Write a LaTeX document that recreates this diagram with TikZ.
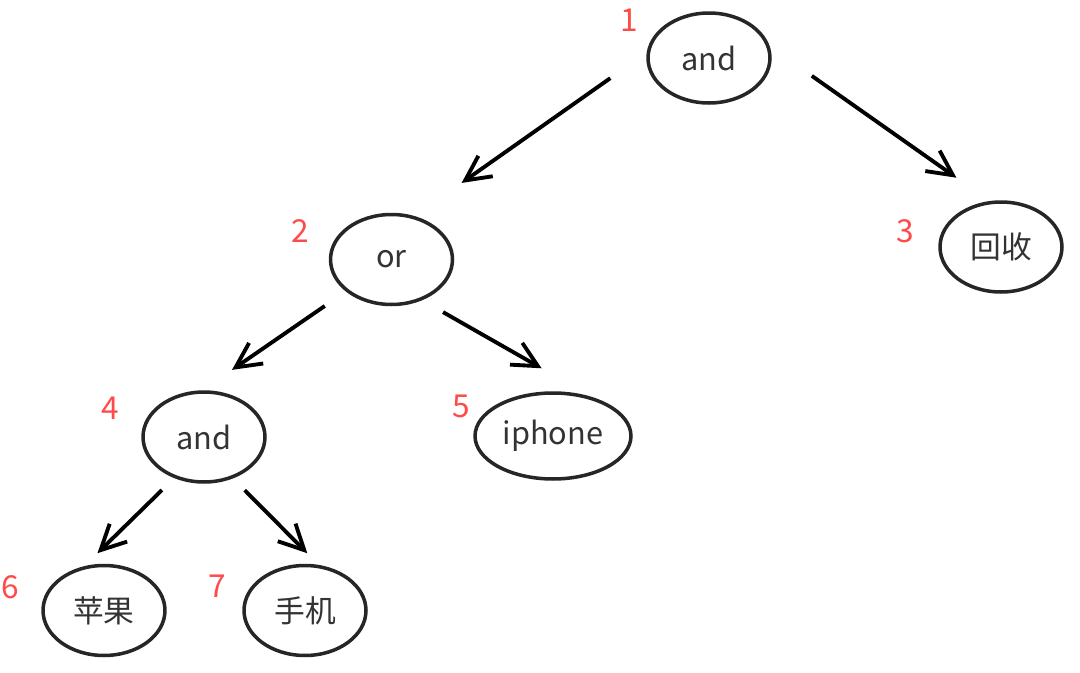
\documentclass[tikz,border=0pt]{standalone}
\usepackage{fontspec}
\setmainfont{Noto Sans CJK SC}
\usetikzlibrary{shapes.geometric,arrows.meta}
\definecolor{nodeline}{HTML}{262626}
\definecolor{nodetext}{HTML}{333333}
\definecolor{numred}{HTML}{FF4A4A}
\tikzset{
  treenode/.style={ellipse, draw=nodeline, line width=2pt, text=nodetext,
    minimum width=2.44cm, minimum height=1.8cm, inner sep=0pt,
    font=\fontsize{17.5}{20}\selectfont},
  numlabel/.style={text=numred, font=\fontsize{18}{20}\selectfont},
  treeedge/.style={line width=2.2pt, -{Straight Barb[length=0.5cm,width=0.5cm]}}
}
\begin{document}
\begin{tikzpicture}[x=0.02cm,y=-0.02cm]
        % Area del disegno
        \useasboundingbox (0,0) rectangle (1080,673);

        % Nodi dell'albero
        \node[treenode] (n1) at (709,58) {\raisebox{-1.5pt}{and}};
        \node[treenode] (n2) at (391.5,259.5) {\raisebox{-1.5pt}{or}};
        \node[treenode] (n3) at (1001,247) {回收};
        \node[treenode] (n4) at (204,437) {\raisebox{-1.5pt}{and}};
        \node[treenode, minimum width=3.12cm, minimum height=1.72cm] (n5) at (553,436) {\raisebox{-1.5pt}{iphone}};
        \node[treenode] (n6) at (104,610.5) {苹果};
        \node[treenode] (n7) at (305,610.5) {手机};

        % Numeri rossi
        \node[numlabel] (k1) at (629,20) {1};
        \node[numlabel] (k2) at (300,231) {2};
        \node[numlabel] (k3) at (905.5,231.5) {3};
        \node[numlabel] (k4) at (110.7,408) {4};
        \node[numlabel] (k5) at (461,406) {5};
        \node[numlabel] (k6) at (10,587) {6};
        \node[numlabel] (k7) at (217.5,586) {7};

        % Frecce
        \draw[treeedge, shorten <=0.89cm, shorten >=1.15cm] (n1.175) -- (n2.62);
        \draw[treeedge, shorten <=1.03cm, shorten >=0.81cm] (n1.11) -- (n3.104);
        \draw[treeedge, shorten <=0.51cm, shorten >=0.72cm] (n2.215) -- (n4.92);
        \draw[treeedge, shorten <=0.48cm, shorten >=1.16cm] (n2.-53) -- (n5.45);
        \draw[treeedge, shorten <=0.34cm, shorten >=0.37cm] (n4.234) -- (n6.114);
        \draw[treeedge, shorten <=0.33cm, shorten >=0.33cm] (n4.-55) -- (n7.73);
    \end{tikzpicture}
\end{document}
